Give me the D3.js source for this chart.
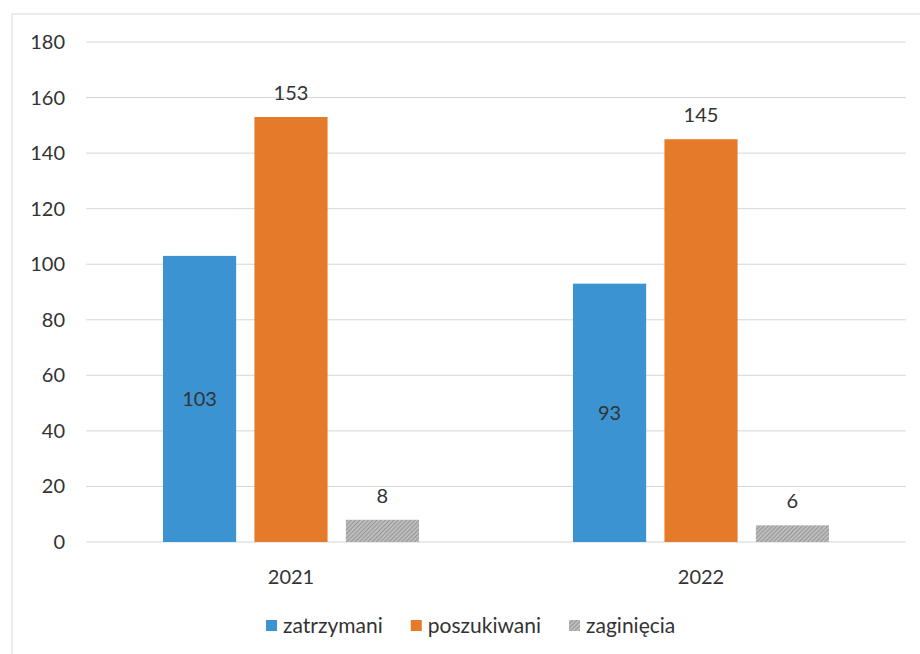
<!DOCTYPE html>
<html>
<head>
<meta charset="utf-8">
<script src="https://cdn.jsdelivr.net/npm/d3@7"></script>
<style>
  body { margin: 0; background: #fff; }
  svg text { font-family: Lato, "Open Sans", sans-serif; fill: #333; }
</style>
</head>
<body>
<svg id="chart" width="920" height="654"></svg>
<script>
// chart data
var years = ["2021", "2022"];
var series = ["zatrzymani", "poszukiwani", "zaginięcia"];
var zatrzymani = [103, 93];
var poszukiwani = [153, 145];
var zaginiecia = [8, 6];
var yTicks = [0, 20, 40, 60, 80, 100, 120, 140, 160, 180];

var values = [zatrzymani, poszukiwani, zaginiecia];
var colors = ["#3b93d2", "#e57a29", "url(#hatch)"];
// where each series puts its data label
var labelPos = ["inside", "above", "above"];

var svg = d3.select("#chart");

// hatch pattern for the grey series
var pat = svg.append("defs").append("pattern")
    .attr("id", "hatch")
    .attr("patternUnits", "userSpaceOnUse")
    .attr("width", 3).attr("height", 3)
    .attr("patternTransform", "rotate(45)");
pat.append("rect").attr("width", 3).attr("height", 3).attr("fill", "#bdbdbd");
pat.append("line").attr("x1", 0).attr("y1", 0).attr("x2", 0).attr("y2", 3)
    .attr("stroke", "#858585").attr("stroke-width", 1.4);

// outer chart frame
svg.append("rect")
    .attr("x", 12).attr("y", 14)
    .attr("width", 960).attr("height", 700)
    .attr("fill", "none")
    .attr("stroke", "#dadada");

var plot = { left: 86, right: 906, top: 42, bottom: 542 };

var y = d3.scaleLinear().domain([0, 180]).range([plot.bottom, plot.top]);

var x0 = d3.scaleBand().domain(years).range([plot.left, plot.right]);

var x1 = d3.scaleBand().domain(series)
    .range([x0.bandwidth() / 2 - 128, x0.bandwidth() / 2 + 128])
    .paddingInner(0.2);

// gridlines
svg.append("g").selectAll("line")
    .data(yTicks)
    .enter().append("line")
    .attr("x1", plot.left).attr("x2", plot.right)
    .attr("y1", function(d) { return y(d); })
    .attr("y2", function(d) { return y(d); })
    .attr("stroke", "#d6d6d6")
    .attr("stroke-width", 1);

// y tick labels
svg.append("g").selectAll("text")
    .data(yTicks)
    .enter().append("text")
    .attr("x", 65)
    .attr("y", function(d) { return y(d); })
    .attr("dy", "0.35em")
    .attr("text-anchor", "end")
    .attr("font-size", 20)
    .text(function(d) { return d; });

// bars
var groups = svg.append("g").selectAll("g")
    .data(years)
    .enter().append("g")
    .attr("transform", function(d) { return "translate(" + x0(d) + ",0)"; });

groups.selectAll("rect")
    .data(function(d, i) {
        return series.map(function(s, j) { return { key: s, idx: j, value: values[j][i] }; });
    })
    .enter().append("rect")
    .attr("x", function(d) { return x1(d.key); })
    .attr("y", function(d) { return y(d.value); })
    .attr("width", x1.bandwidth())
    .attr("height", function(d) { return y(0) - y(d.value); })
    .attr("fill", function(d) { return colors[d.idx]; });

// data labels
groups.selectAll("text.val")
    .data(function(d, i) {
        return series.map(function(s, j) { return { key: s, idx: j, value: values[j][i] }; });
    })
    .enter().append("text")
    .attr("class", "val")
    .attr("x", function(d) { return x1(d.key) + x1.bandwidth() / 2; })
    .attr("y", function(d) {
        if (labelPos[d.idx] == "inside") { return (y(d.value) + y(0)) / 2; }
        return y(d.value) - 24;
    })
    .attr("dy", "0.35em")
    .attr("text-anchor", "middle")
    .attr("font-size", 20)
    .text(function(d) { return d.value; });

// category labels
svg.append("g").selectAll("text")
    .data(years)
    .enter().append("text")
    .attr("x", function(d) { return x0(d) + x0.bandwidth() / 2; })
    .attr("y", 577)
    .attr("dy", "0.35em")
    .attr("text-anchor", "middle")
    .attr("font-size", 20)
    .text(function(d) { return d; });

// legend
var legend = svg.append("g");
var lx = 266;
series.forEach(function(s, i) {
    legend.append("rect")
        .attr("x", lx).attr("y", 620)
        .attr("width", 11).attr("height", 11)
        .attr("fill", colors[i]);
    var t = legend.append("text")
        .attr("x", lx + 17).attr("y", 626)
        .attr("dy", "0.35em")
        .attr("font-size", 21)
        .text(s);
    lx += 17 + t.node().getComputedTextLength() + 28;
});
</script>
</body>
</html>
